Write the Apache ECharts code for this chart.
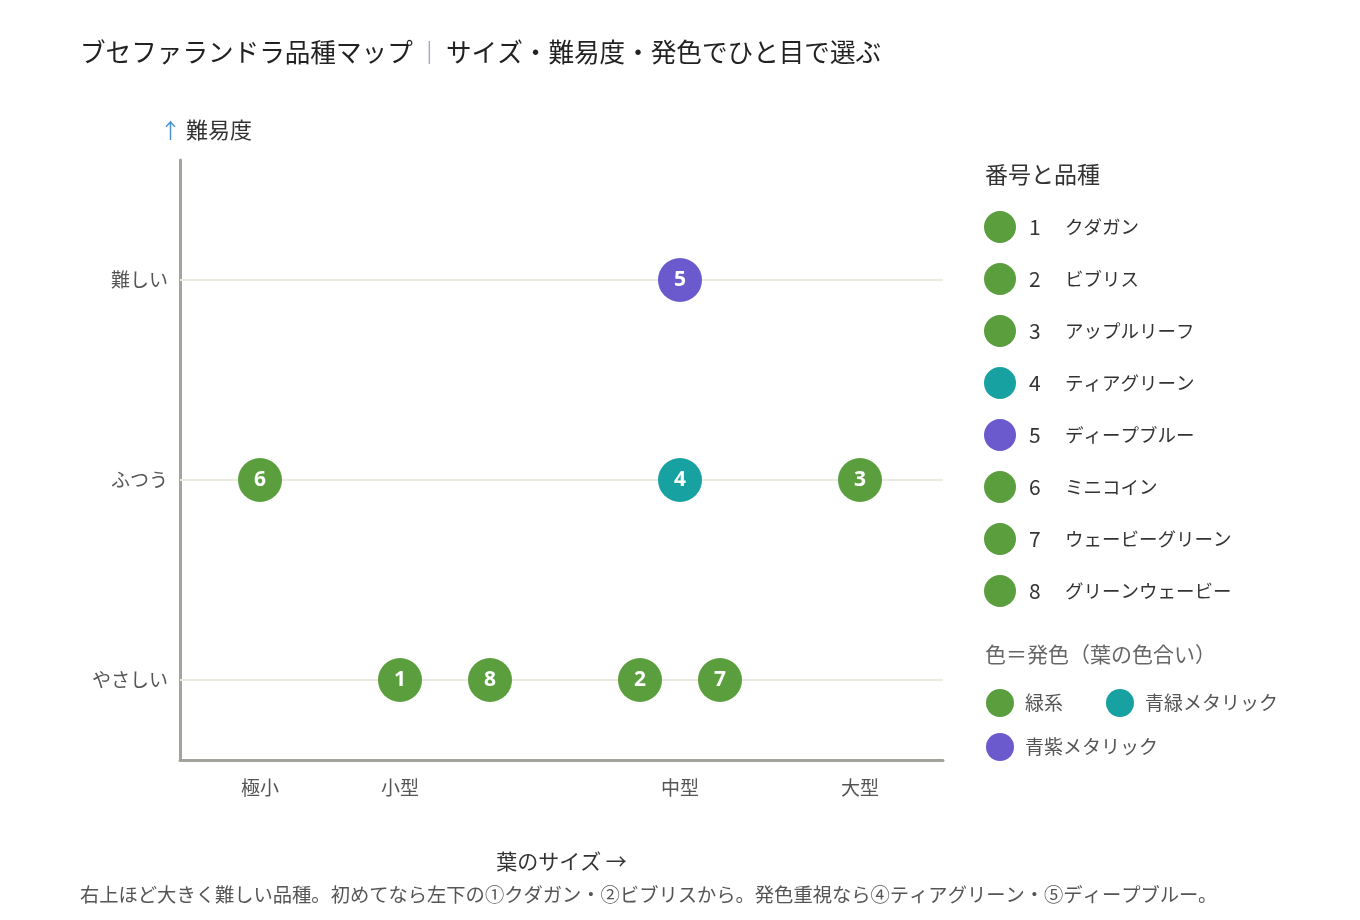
<!DOCTYPE html>
<html>
<head>
<meta charset="utf-8">
<script src="https://cdn.jsdelivr.net/npm/echarts@6/dist/echarts.min.js"></script>
<style>
  html, body { margin: 0; padding: 0; background: #fff; }
  #main { width: 1360px; height: 920px; }
</style>
</head>
<body>
<div id="main"></div>
<script>
// データ
var varieties = ['クダガン', 'ビブリス', 'アップルリーフ', 'ティアグリーン', 'ディープブルー', 'ミニコイン', 'ウェービーグリーン', 'グリーンウェービー'];
var leafSize = [11, 23, 34, 25, 25, 4, 27, 15.5];
var difficulty = [0, 0, 1, 1, 2, 1, 0, 0];
var hueOf = ['緑系', '緑系', '緑系', '青緑メタリック', '青紫メタリック', '緑系', '緑系', '緑系'];
var hueNames = ['緑系', '青緑メタリック', '青紫メタリック'];
var hueColors = ['#5a9e3e', '#17a2a1', '#6a5acd'];
var sizeTicks = [4, 11, 25, 34];
var sizeLabels = ['極小', '小型', '中型', '大型'];
var levelTicks = [0, 1, 2];
var levelLabels = ['やさしい', 'ふつう', '難しい'];

var FONT = '"Noto Sans CJK JP", "Noto Sans", sans-serif';
var myChart = echarts.init(document.getElementById('main'));

function colorOf(i) {
    return hueColors[hueNames.indexOf(hueOf[i])];
}

var series = [];
// 品種ごとのシリーズ（凡例1用）
varieties.forEach(function (name, i) {
    series.push({
        name: name,
        type: 'scatter',
        z: 5,
        symbol: 'circle',
        symbolSize: 44,
        itemStyle: { color: colorOf(i), opacity: 1 },
        label: {
            show: true,
            position: 'inside',
            formatter: String(i + 1),
            color: '#fff',
            fontWeight: 'bold',
            fontSize: 21,
            fontFamily: '"Open Sans", "Noto Sans", sans-serif'
        },
        emphasis: { disabled: true },
        data: [[leafSize[i], difficulty[i]]]
    });
});
// 発色の凡例用（空シリーズ）
hueNames.forEach(function (name, k) {
    series.push({
        name: name,
        type: 'scatter',
        symbol: 'circle',
        itemStyle: { color: hueColors[k], opacity: 1 },
        data: []
    });
});
// 横のガイド線
series.push({
    name: 'guide',
    type: 'scatter',
    z: 1,
    data: [],
    markLine: {
        silent: true,
        symbol: 'none',
        label: { show: false },
        lineStyle: { color: '#ece9df', width: 2, type: 'solid' },
        data: levelTicks.map(function (v) { return { yAxis: v }; })
    }
});

var hueLegend = {
    orient: 'horizontal',
    padding: 0,
    itemWidth: 28, itemHeight: 28,
    icon: 'circle',
    selectedMode: false,
    formatter: function (name) { return '{a|' + name + '}'; },
    textStyle: {
        rich: {
            a: { fontSize: 19, color: '#555', padding: [0, 0, 0, 6], fontFamily: FONT }
        }
    }
};

var option = {
    backgroundColor: '#fff',
    animation: false,
    textStyle: { fontFamily: FONT },
    title: [
        {
            left: 80, top: 39, padding: 0,
            text: '{t|ブセファランドラ品種マップ}{s| ｜ }{t|サイズ・難易度・発色でひと目で選ぶ}',
            textStyle: {
                rich: {
                    t: { fontSize: 25.6, fontWeight: 'normal', color: '#222', fontFamily: FONT },
                    s: { fontSize: 23, fontWeight: 'normal', color: '#7a86b5', fontFamily: FONT }
                }
            }
        },
        {
            left: 160, top: 119, padding: 0,
            text: '{a|↑}{b| 難易度}',
            textStyle: {
                rich: {
                    a: { fontSize: 21, fontWeight: 'normal', color: '#4a8fd6', fontFamily: FONT },
                    b: { fontSize: 22, fontWeight: 'normal', color: '#333', fontFamily: FONT }
                }
            }
        },
        {
            left: 985, top: 163, padding: 0,
            text: '番号と品種',
            textStyle: { fontSize: 23, fontWeight: 'normal', color: '#333', fontFamily: FONT }
        },
        {
            left: 985, top: 644, padding: 0,
            text: '色＝発色（葉の色合い）',
            textStyle: { fontSize: 21, fontWeight: 'normal', color: '#666', fontFamily: FONT }
        },
        {
            left: 80, top: 885, padding: 0,
            text: '右上ほど大きく難しい品種。初めてなら左下の①クダガン・②ビブリスから。発色重視なら④ティアグリーン・⑤ディープブルー。',
            textStyle: { fontSize: 19.3, fontWeight: 'normal', color: '#555', fontFamily: FONT }
        }
    ],
    legend: [
        {
            orient: 'vertical',
            left: 984, top: 211, padding: 0,
            itemWidth: 32, itemHeight: 32, itemGap: 20,
            icon: 'circle',
            selectedMode: false,
            data: varieties,
            formatter: function (name) {
                return '{n|' + (varieties.indexOf(name) + 1) + '}{t|' + name + '}';
            },
            textStyle: {
                rich: {
                    n: { fontSize: 21, color: '#333', width: 36, padding: [0, 0, 0, 8], fontFamily: FONT },
                    t: { fontSize: 18.5, color: '#333', fontFamily: FONT }
                }
            }
        },
        Object.assign({}, hueLegend, { left: 986, top: 689, itemGap: 43, data: hueNames.slice(0, 2) }),
        Object.assign({}, hueLegend, { left: 986, top: 733, itemGap: 16, data: hueNames.slice(2) })
    ],
    grid: { left: 180, right: 417, top: 160, bottom: 160 },
    xAxis: {
        type: 'value',
        min: 0, max: 38.15,
        name: '葉のサイズ →',
        nameLocation: 'middle',
        nameGap: 91,
        nameTextStyle: { fontSize: 21, color: '#333', fontFamily: FONT },
        axisLine: { show: true, onZero: false, lineStyle: { color: '#a3a39c', width: 3 } },
        axisTick: { show: false },
        splitLine: { show: false },
        axisLabel: {
            customValues: sizeTicks,
            formatter: function (v) { return sizeLabels[sizeTicks.indexOf(v)]; },
            fontSize: 19, color: '#555', margin: 18, fontFamily: FONT
        }
    },
    yAxis: {
        type: 'value',
        min: -0.4, max: 2.6,
        axisLine: { show: true, onZero: false, lineStyle: { color: '#a3a39c', width: 3 } },
        axisTick: { show: false },
        splitLine: { show: false },
        axisLabel: {
            customValues: levelTicks,
            formatter: function (v) { return levelLabels[levelTicks.indexOf(v)]; },
            fontSize: 19, color: '#555', margin: 12, fontFamily: FONT
        }
    },
    series: series
};

myChart.setOption(option);
</script>
</body>
</html>
